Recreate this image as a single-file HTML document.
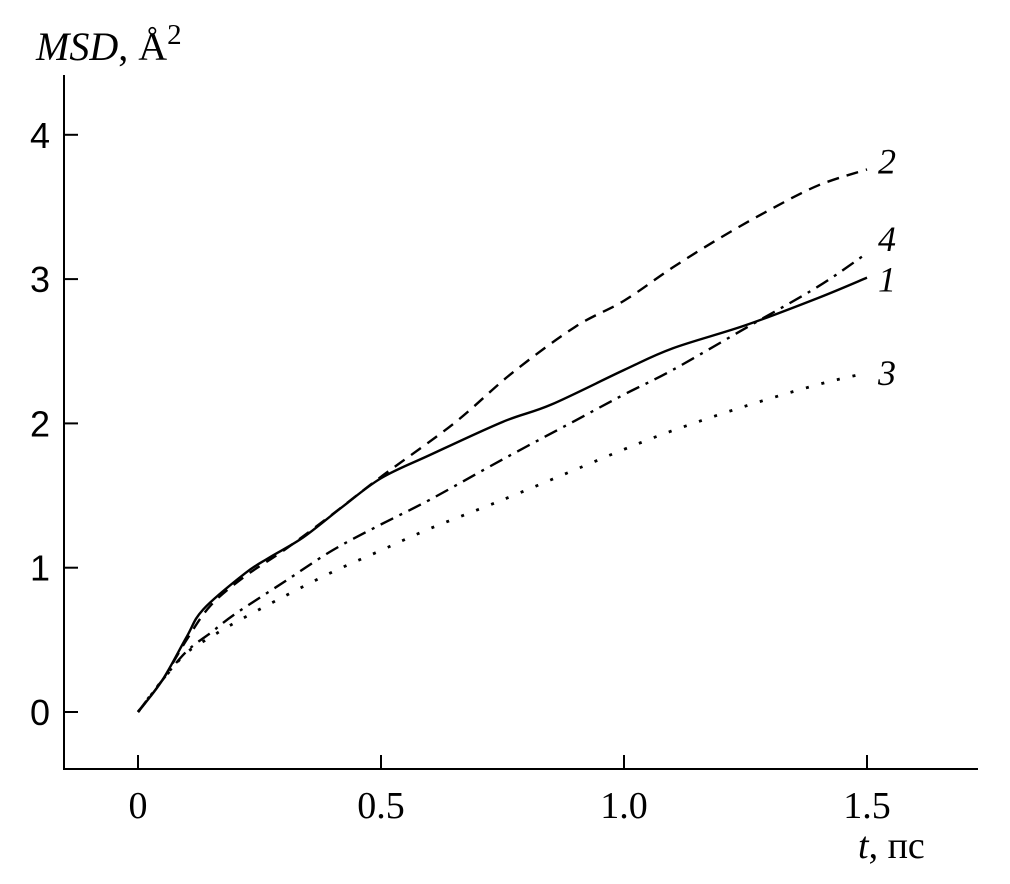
<!DOCTYPE html>
<html><head><meta charset="utf-8"><style>
html,body{margin:0;padding:0;background:#fff;}
svg{display:block;}
</style></head><body>
<svg width="1010" height="884" viewBox="0 0 1010 884" xmlns="http://www.w3.org/2000/svg">
<g id="axes" stroke="#000" stroke-width="2" fill="none">
<line x1="64" y1="75" x2="64" y2="769"/>
<line x1="63" y1="769" x2="978" y2="769"/>
</g>
<g id="ticks"></g>
<g id="series"></g>
<text x="36" y="60" font-family="Liberation Serif, serif" font-size="40"><tspan font-style="italic">MSD</tspan>, Å<tspan dy="-16" font-size="29">2</tspan></text>
<text x="858" y="858" font-family="Liberation Serif, serif" font-size="38"><tspan font-style="italic">t</tspan>, пс</text>
</svg>
<script>
const tValues=[0,0.05,0.1,0.134,0.22,0.27,0.34,0.42,0.5,0.6,0.75,0.85,1.0,1.1,1.25,1.4,1.5];
const series1=[0,0.22,0.52,0.71,0.96,1.07,1.21,1.42,1.62,1.78,2.01,2.13,2.37,2.52,2.68,2.87,3.01];
const tValues2=[0,0.05,0.1,0.15,0.22,0.3,0.4,0.5,0.65,0.77,0.9,1.0,1.1,1.2,1.3,1.4,1.5];
const series2=[0,0.22,0.5,0.74,0.94,1.12,1.37,1.63,2.0,2.35,2.67,2.85,3.08,3.29,3.48,3.65,3.76];
const tValues34=[0,0.05,0.1,0.15,0.2,0.3,0.4,0.5,0.6,0.75,0.9,1.0,1.1,1.25,1.4,1.5];
const series4=[0,0.22,0.42,0.55,0.68,0.9,1.12,1.3,1.47,1.75,2.02,2.2,2.37,2.66,2.95,3.18];
const series3=[0,0.22,0.41,0.52,0.62,0.8,0.97,1.12,1.27,1.47,1.68,1.82,1.95,2.12,2.27,2.35];
const xTicks=[0,0.5,1.0,1.5];
const xTickLabels=["0","0.5","1.0","1.5"];
const yTicks=[0,1,2,3,4];
const yTickLabels=["0","1","2","3","4"];
const NS="http://www.w3.org/2000/svg";
const xs=t=>138+486*t;
const ys=v=>712-144.3*v;
const tickG=document.getElementById('ticks');
function mk(tag,attrs,parent){const e=document.createElementNS(NS,tag);for(const k in attrs)e.setAttribute(k,attrs[k]);parent.appendChild(e);return e;}
xTicks.forEach((t,i)=>{
 const l=mk('line',{x1:xs(t),x2:xs(t),y1:769,y2:755,stroke:'#000','stroke-width':2},tickG);
 
 
 const tx=mk('text',{x:xs(t),y:818,'text-anchor':'middle','font-family':'Liberation Serif, serif','font-size':38},tickG);
 tx.textContent=xTickLabels[i];
 
 
});
yTicks.forEach((v,i)=>{
 const l=mk('line',{x1:64,x2:78,y1:ys(v),y2:ys(v),stroke:'#000','stroke-width':2},tickG);
 
 
 const tx=mk('text',{x:50,y:ys(v)+13,'text-anchor':'end','font-family':'Liberation Sans, sans-serif','font-size':36},tickG);
 tx.textContent=yTickLabels[i];
 
 
});
function pathFor(ts,vs){
 const p=ts.map((t,i)=>[xs(t),ys(vs[i])]);
 let d='M'+p[0][0]+','+p[0][1];
 for(let i=0;i<p.length-1;i++){
  const p0=p[Math.max(0,i-1)],p1=p[i],p2=p[i+1],p3=p[Math.min(p.length-1,i+2)];
  const c1=[p1[0]+(p2[0]-p0[0])/6,p1[1]+(p2[1]-p0[1])/6];
  const c2=[p2[0]-(p3[0]-p1[0])/6,p2[1]-(p3[1]-p1[1])/6];
  d+=` C${c1[0]},${c1[1]} ${c2[0]},${c2[1]} ${p2[0]},${p2[1]}`;
 }
 return d;
}
const sg=document.getElementById('series');
const defs=[
 {ts:tValues,vs:series1,dash:'',name:'series-1-line',label:'1',w:2.4},
 {ts:tValues2,vs:series2,dash:'12,8',name:'series-2-line',label:'2',w:2.4},
 {ts:tValues34,vs:series3,dash:'3,13',name:'series-3-line',label:'3',w:2.8},
 {ts:tValues34,vs:series4,dash:'14,7,3,7',name:'series-4-line',label:'4',w:2.4}
];
defs.forEach(s=>{
 const a={d:pathFor(s.ts,s.vs),fill:'none',stroke:'#000','stroke-width':s.w};
 if(s.dash)a['stroke-dasharray']=s.dash;
 const p=mk('path',a,sg);
 
 
 const last=s.vs[s.vs.length-1];
 const off={'1':14,'2':4,'3':12,'4':-2}[s.label];
 const tx=mk('text',{x:878,y:ys(last)+off,'font-family':'Liberation Serif, serif','font-style':'italic','font-size':36},sg);
 tx.textContent=s.label;
 
 
});
</script>
</body></html>
